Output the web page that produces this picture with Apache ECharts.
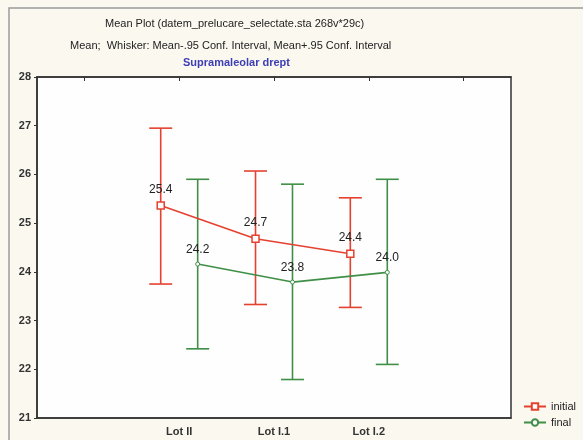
<!DOCTYPE html>
<html>
<head>
<meta charset="utf-8">
<script src="https://cdn.jsdelivr.net/npm/echarts@6/dist/echarts.min.js"></script>
<style>
html,body{margin:0;padding:0;background:#fbf8f0;}
#c{width:583px;height:440px;}
</style>
</head>
<body>
<div id="c"></div>
<script>
// ---- data ----
var axisCategories = [' ', 'Lot II', 'Lot I.1', 'Lot I.2', '  '];
var groups = ['Lot II', 'Lot I.1', 'Lot I.2'];
var initialMean = [25.36, 24.68, 24.37];
var initialLow  = [23.75, 23.33, 23.27];
var initialHigh = [26.95, 26.07, 25.52];
var finalMean = [24.16, 23.79, 23.99];
var finalLow  = [22.42, 21.79, 22.10];
var finalHigh = [25.90, 25.80, 25.90];
var yTicks = [21, 22, 23, 24, 25, 26, 27, 28];

var RED = '#e5412f', GREEN = '#3f8f47';
var FONT = 'Liberation Sans';

function catPos(name) { return axisCategories.indexOf(name) + 0.5; }
function meanData(means, shift) {
  return groups.map(function (g, i) { return [catPos(g) + shift, means[i]]; });
}
function whiskerData(lows, highs, shift) {
  return groups.map(function (g, i) { return [catPos(g) + shift, lows[i], highs[i]]; });
}
function whiskerRender(color) {
  return function (params, api) {
    var x = api.value(0);
    var lo = api.coord([x, api.value(1)]);
    var hi = api.coord([x, api.value(2)]);
    var w = 11.5;
    var st = { stroke: color, lineWidth: 1.6 };
    return {
      type: 'group',
      children: [
        { type: 'line', shape: { x1: lo[0], y1: lo[1], x2: hi[0], y2: hi[1] }, style: st },
        { type: 'line', shape: { x1: hi[0] - w, y1: hi[1], x2: hi[0] + w, y2: hi[1] }, style: st },
        { type: 'line', shape: { x1: lo[0] - w, y1: lo[1], x2: lo[0] + w, y2: lo[1] }, style: st }
      ]
    };
  };
}

var chart = echarts.init(document.getElementById('c'), null, { renderer: 'canvas' });
var SHIFT = 0.195;
chart.setOption({
  backgroundColor: '#fbf8f0',
  animation: false,
  textStyle: { fontFamily: FONT },
  graphic: [
    { type: 'rect', shape: { x: 9, y: 8, width: 700, height: 600 }, style: { fill: 'none', stroke: '#9a9a9a', lineWidth: 1.5 }, z: -1 },
    { type: 'text', top: 18, left: 105, style: { text: 'Mean Plot (datem_prelucare_selectate.sta 268v*29c)', font: '11px "Liberation Sans"', fill: '#222' } },
    { type: 'text', top: 40, left: 70, style: { text: 'Mean;  Whisker: Mean-.95 Conf. Interval, Mean+.95 Conf. Interval', font: '11px "Liberation Sans"', fill: '#222' } },
    { type: 'text', top: 57, left: 183, style: { text: 'Supramaleolar drept', font: 'bold 11px "Liberation Sans"', fill: '#3d3db5' } }
  ],
  grid: { left: 37, right: 72, top: 77, bottom: 22, show: true, backgroundColor: '#fefefe', borderColor: '#333', borderWidth: 1.5 },
  legend: {
    orient: 'vertical', left: 518, top: 396, itemWidth: 22, itemHeight: 8, itemGap: 5,
    textStyle: { fontSize: 11, color: '#222', fontFamily: FONT },
    data: ['initial', 'final']
  },
  xAxis: [
    { type: 'category', data: axisCategories, boundaryGap: true, position: 'bottom',
      axisLine: { lineStyle: { color: '#333', width: 1.5 } },
      axisTick: { alignWithLabel: true, inside: true, length: 4, lineStyle: { color: '#333' } },
      axisLabel: { color: '#333', fontSize: 11, fontWeight: 'bold', margin: 8, fontFamily: FONT },
      splitLine: { show: false } },
    { type: 'category', data: axisCategories, boundaryGap: true, position: 'top',
      axisLine: { show: true, lineStyle: { color: '#333', width: 1.5 } },
      axisTick: { show: true, alignWithLabel: true, inside: true, length: 4, lineStyle: { color: '#333' } },
      axisLabel: { show: false }, splitLine: { show: false } },
    { type: 'value', min: 0, max: 5, interval: 1, show: false }
  ],
  yAxis: {
    type: 'value', min: yTicks[0], max: yTicks[yTicks.length - 1], interval: 1,
    axisLine: { show: true, lineStyle: { color: '#333', width: 1.5 } },
    axisTick: { show: true, inside: false, length: 3, lineStyle: { color: '#333' } },
    axisLabel: { color: '#333', fontSize: 11, fontWeight: 'bold', margin: 6, fontFamily: FONT },
    splitLine: { show: false }
  },
  series: [
    { type: 'custom', name: 'initialW', xAxisIndex: 2, renderItem: whiskerRender(RED), data: whiskerData(initialLow, initialHigh, -SHIFT), z: 2 },
    { type: 'custom', name: 'finalW', xAxisIndex: 2, renderItem: whiskerRender(GREEN), data: whiskerData(finalLow, finalHigh, SHIFT), z: 2 },
    { type: 'line', name: 'initial', xAxisIndex: 2, data: meanData(initialMean, -SHIFT),
      symbol: 'rect', symbolSize: 7, color: RED,
      lineStyle: { color: RED, width: 1.6 }, itemStyle: { color: '#fff', borderColor: RED, borderWidth: 1.5 },
      label: { show: true, position: 'top', distance: 6, color: '#222', fontSize: 12, fontFamily: FONT,
               formatter: function (p) { return p.value[1].toFixed(1); } }, z: 3 },
    { type: 'line', name: 'final', xAxisIndex: 2, data: meanData(finalMean, SHIFT),
      symbol: 'circle', symbolSize: 4, color: GREEN,
      lineStyle: { color: GREEN, width: 1.6 }, itemStyle: { color: '#fff', borderColor: GREEN, borderWidth: 1 },
      label: { show: true, position: 'top', distance: 6, color: '#222', fontSize: 12, fontFamily: FONT,
               formatter: function (p) { return p.value[1].toFixed(1); } }, z: 3 }
  ]
});
</script>
</body>
</html>
